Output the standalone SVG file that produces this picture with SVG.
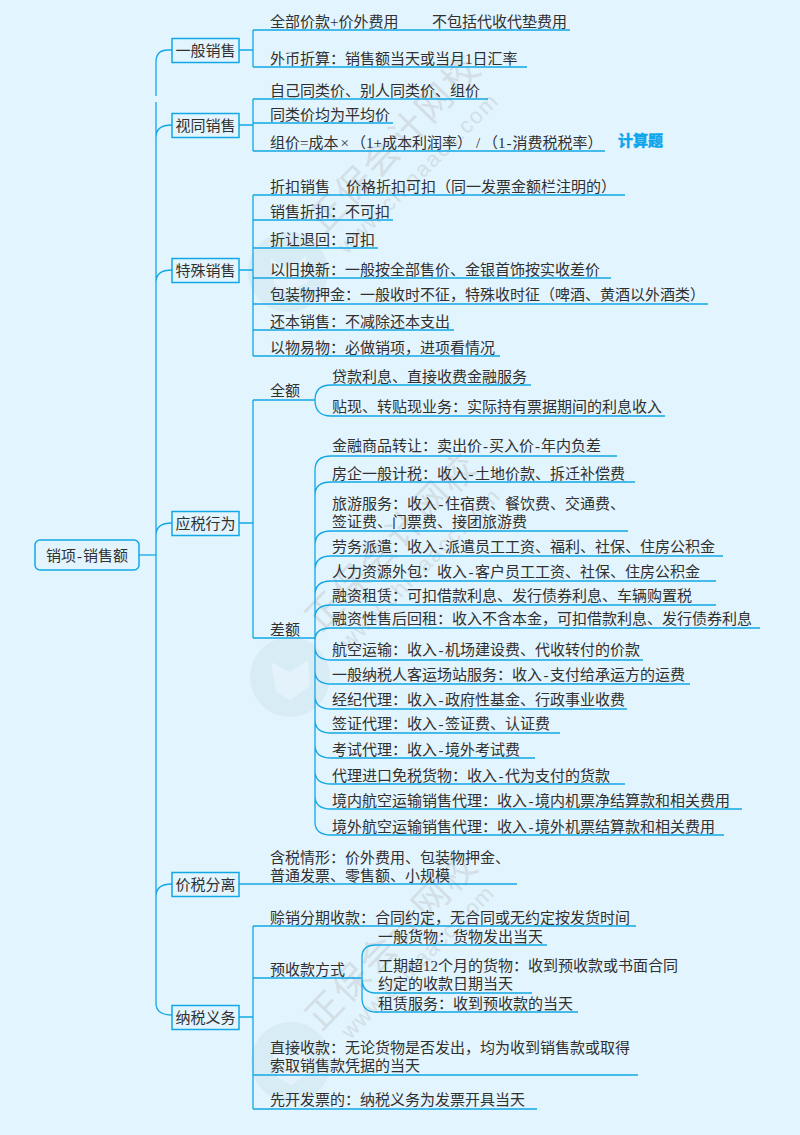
<svg xmlns="http://www.w3.org/2000/svg" width="800" height="1135" viewBox="0 0 800 1135">
<style>
text{font-family:"Liberation Serif","Noto Sans CJK SC",sans-serif;font-size:15px;fill:#303030;}
.box{fill:#e2f4fe;stroke:#12a8e6;stroke-width:1.5;}
.c{fill:none;stroke:#12a8e6;stroke-width:1.3;}
.t{text-anchor:middle;}
.wm{fill:#d3dfe6;font-size:36px;font-family:"Noto Sans CJK SC",sans-serif;}
.wu{fill:#d3dfe6;font-size:22px;font-family:"Liberation Sans",sans-serif;}
.logo{fill:#d8ecf6;}
.lg2{fill:#e4f3fb;}
</style>
<rect width="800" height="1135" fill="#e2f4fe"/>
<g id="watermarks">
<circle class="logo" cx="288" cy="272" r="40"/><path class="lg2" d="M270 258L288 268L306 256L308 282L288 292L274 284Z"/>
<circle class="logo" cx="290" cy="677" r="40"/><path class="lg2" d="M271 662L290 672L308 660L310 686L290 700L276 692Z"/>
<circle class="logo" cx="291" cy="1062" r="40"/><path class="lg2" d="M272 1047L291 1057L309 1045L311 1071L291 1085L277 1077Z"/>
<text class="wm" transform="translate(324 235) rotate(-46)" textLength="228">正保会计网校</text>
<text class="wu" transform="translate(347 255) rotate(-45)" textLength="215">www.chinaacc.com</text>
<text class="wm" transform="translate(321 633) rotate(-46)" textLength="228">正保会计网校</text>
<text class="wu" transform="translate(349 650) rotate(-45)" textLength="215">www.chinaacc.com</text>
<text class="wm" transform="translate(321 1032) rotate(-46)" textLength="228">正保会计网校</text>
<text class="wu" transform="translate(350 1040) rotate(-45)" textLength="205">www.chinaacc.com</text>
</g>
<g id="connectors">
<path class="c" d="M139 555H156"/>
<path class="c" d="M172 50H168Q156 50 156 62V96M156 102V1003Q156 1015 172 1015M156 137Q156 125 172 125M156 282Q156 270 172 270M156 535Q156 523 172 523M156 896Q156 884 172 884"/>
<path class="c" d="M239 50H253M253 30V67M253 30H570M253 67H527"/>
<path class="c" d="M239 125H253M253 99V151M253 99H488M253 123H393M253 151H605"/>
<path class="c" d="M239 270H253M253 195V356M253 195H625M253 220H393M253 248H378M253 278H611M253 304H708M253 330H454M253 356H500"/>
<path class="c" d="M239 523H253M253 400V638M253 400H315M253 638H315"/>
<path class="c" d="M315 400Q315 385 331 385H531M315 400Q315 416 331 416H665"/>
<path class="c" d="M315 470Q315 456 331 456H617M315 495Q315 482 331 482H635M315 545Q315 531 331 531H628M315 570Q315 556 331 556H723M315 595Q315 581 331 581H716M315 618Q315 605 331 605H716M315 640Q315 628 331 628H760M315 470V822Q315 835 331 835H724M315 647Q315 660 331 660H643M315 671Q315 684 331 684H690M315 696Q315 709 331 709H627M315 720Q315 733 331 733H560M315 745Q315 758 331 758H535M315 771Q315 784 331 784H625M315 796Q315 809 331 809H742"/>
<path class="c" d="M239 884H517"/>
<path class="c" d="M239 1017H253M253 926V1109M253 926H636M253 978H362M253 1075H638M253 1109H537"/>
<path class="c" d="M362 978V957Q362 945 376 945H547M362 978Q362 993 376 993H532M362 978V998Q362 1012 376 1012H578"/>
</g>
<g id="root"><rect class="box" x="35" y="540" width="104" height="30" rx="5"/><text class="t" x="87" y="561">销项<tspan dx="1">-</tspan><tspan dx="1">销售额</tspan></text></g>
<g id="n1"><rect class="box" x="172" y="38.500" width="67" height="24"/><text class="t" x="205.500" y="56">一般销售</text></g>
<g id="n2"><rect class="box" x="172" y="113.500" width="67" height="24"/><text class="t" x="205.500" y="131">视同销售</text></g>
<g id="n3"><rect class="box" x="172" y="258.500" width="67" height="24"/><text class="t" x="205.500" y="276">特殊销售</text></g>
<g id="n4"><rect class="box" x="172" y="511.500" width="67" height="24"/><text class="t" x="205.500" y="529">应税行为</text></g>
<g id="n5"><rect class="box" x="172" y="872.500" width="67" height="24"/><text class="t" x="205.500" y="890">价税分离</text></g>
<g id="n6"><rect class="box" x="172" y="1005.500" width="67" height="24"/><text class="t" x="205.500" y="1023">纳税义务</text></g>
<g id="labels">
<text x="270" y="27">全部价款+价外费用</text><text x="432" y="27">不包括代收代垫费用</text>
<text x="270" y="64">外币折算：销售额当天或当月1日汇率</text>
<text x="270" y="96">自己同类价、别人同类价、组价</text>
<text x="270" y="120">同类价均为平均价</text>
<text x="270" y="148">组价=成本<tspan dx="2">×</tspan><tspan dx="2">（1+成本利润率）</tspan><tspan dx="4">/</tspan><tspan dx="3">（1</tspan><tspan dx="1">-</tspan><tspan dx="1">消费税税率）</tspan></text>
<text x="618" y="146" style="font-size:15px;font-weight:700;fill:#0aa5ea;stroke:#0aa5ea;stroke-width:.5">计算题</text>
<text x="270" y="192">折扣销售</text><text x="346" y="192">价格折扣可扣（同一发票金额栏注明的）</text>
<text x="270" y="217">销售折扣：不可扣</text>
<text x="270" y="245">折让退回：可扣</text>
<text x="270" y="275">以旧换新：一般按全部售价、金银首饰按实收差价</text>
<text x="270" y="300">包装物押金：一般收时不征，特殊收时征（啤酒、黄酒以外酒类）</text>
<text x="270" y="327">还本销售：不减除还本支出</text>
<text x="270" y="353">以物易物：必做销项，进项看情况</text>
<text x="270" y="396">全额</text><text x="270" y="635">差额</text>
<text x="332" y="382">贷款利息、直接收费金融服务</text>
<text x="332" y="412">贴现、转贴现业务：实际持有票据期间的利息收入</text>
<text x="332" y="451">金融商品转让：卖出价<tspan dx="1">-</tspan><tspan dx="1">买入价</tspan><tspan dx="1">-</tspan><tspan dx="1">年内负差</tspan></text>
<text x="332" y="479">房企一般计税：收入<tspan dx="1.500">-</tspan><tspan dx="1.500">土地价款、拆迁补偿费</tspan></text>
<text x="332" y="509">旅游服务：收入<tspan dx="1.500">-</tspan><tspan dx="1.500">住宿费、餐饮费、交通费、</tspan></text>
<text x="332" y="527">签证费、门票费、接团旅游费</text>
<text x="332" y="552">劳务派遣：收入<tspan dx="1.500">-</tspan><tspan dx="1.500">派遣员工工资、福利、社保、住房公积金</tspan></text>
<text x="332" y="577">人力资源外包：收入<tspan dx="1.500">-</tspan><tspan dx="1.500">客户员工工资、社保、住房公积金</tspan></text>
<text x="332" y="601">融资租赁：可扣借款利息、发行债券利息、车辆购置税</text>
<text x="332" y="624">融资性售后回租：收入不含本金，可扣借款利息、发行债券利息</text>
<text x="332" y="655">航空运输：收入<tspan dx="1.500">-</tspan><tspan dx="1.500">机场建设费、代收转付的价款</tspan></text>
<text x="332" y="680">一般纳税人客运场站服务：收入<tspan dx="1.500">-</tspan><tspan dx="1.500">支付给承运方的运费</tspan></text>
<text x="332" y="705">经纪代理：收入<tspan dx="1.500">-</tspan><tspan dx="1.500">政府性基金、行政事业收费</tspan></text>
<text x="332" y="729">签证代理：收入<tspan dx="1.500">-</tspan><tspan dx="1.500">签证费、认证费</tspan></text>
<text x="332" y="755">考试代理：收入<tspan dx="1.500">-</tspan><tspan dx="1.500">境外考试费</tspan></text>
<text x="332" y="781">代理进口免税货物：收入<tspan dx="1.500">-</tspan><tspan dx="1.500">代为支付的货款</tspan></text>
<text x="332" y="806">境内航空运输销售代理：收入<tspan dx="1.500">-</tspan><tspan dx="1.500">境内机票净结算款和相关费用</tspan></text>
<text x="332" y="832">境外航空运输销售代理：收入<tspan dx="1.500">-</tspan><tspan dx="1.500">境外机票结算款和相关费用</tspan></text>
<text x="270" y="863">含税情形：价外费用、包装物押金、</text>
<text x="270" y="881">普通发票、零售额、小规模</text>
<text x="270" y="923">赊销分期收款：合同约定，无合同或无约定按发货时间</text>
<text x="270" y="975">预收款方式</text>
<text x="378" y="942">一般货物：货物发出当天</text>
<text x="378" y="971">工期超12个月的货物：收到预收款或书面合同</text>
<text x="378" y="989">约定的收款日期当天</text>
<text x="378" y="1009">租赁服务：收到预收款的当天</text>
<text x="270" y="1053">直接收款：无论货物是否发出，均为收到销售款或取得</text>
<text x="270" y="1071">索取销售款凭据的当天</text>
<text x="270" y="1105">先开发票的：纳税义务为发票开具当天</text>
</g>
</svg>
